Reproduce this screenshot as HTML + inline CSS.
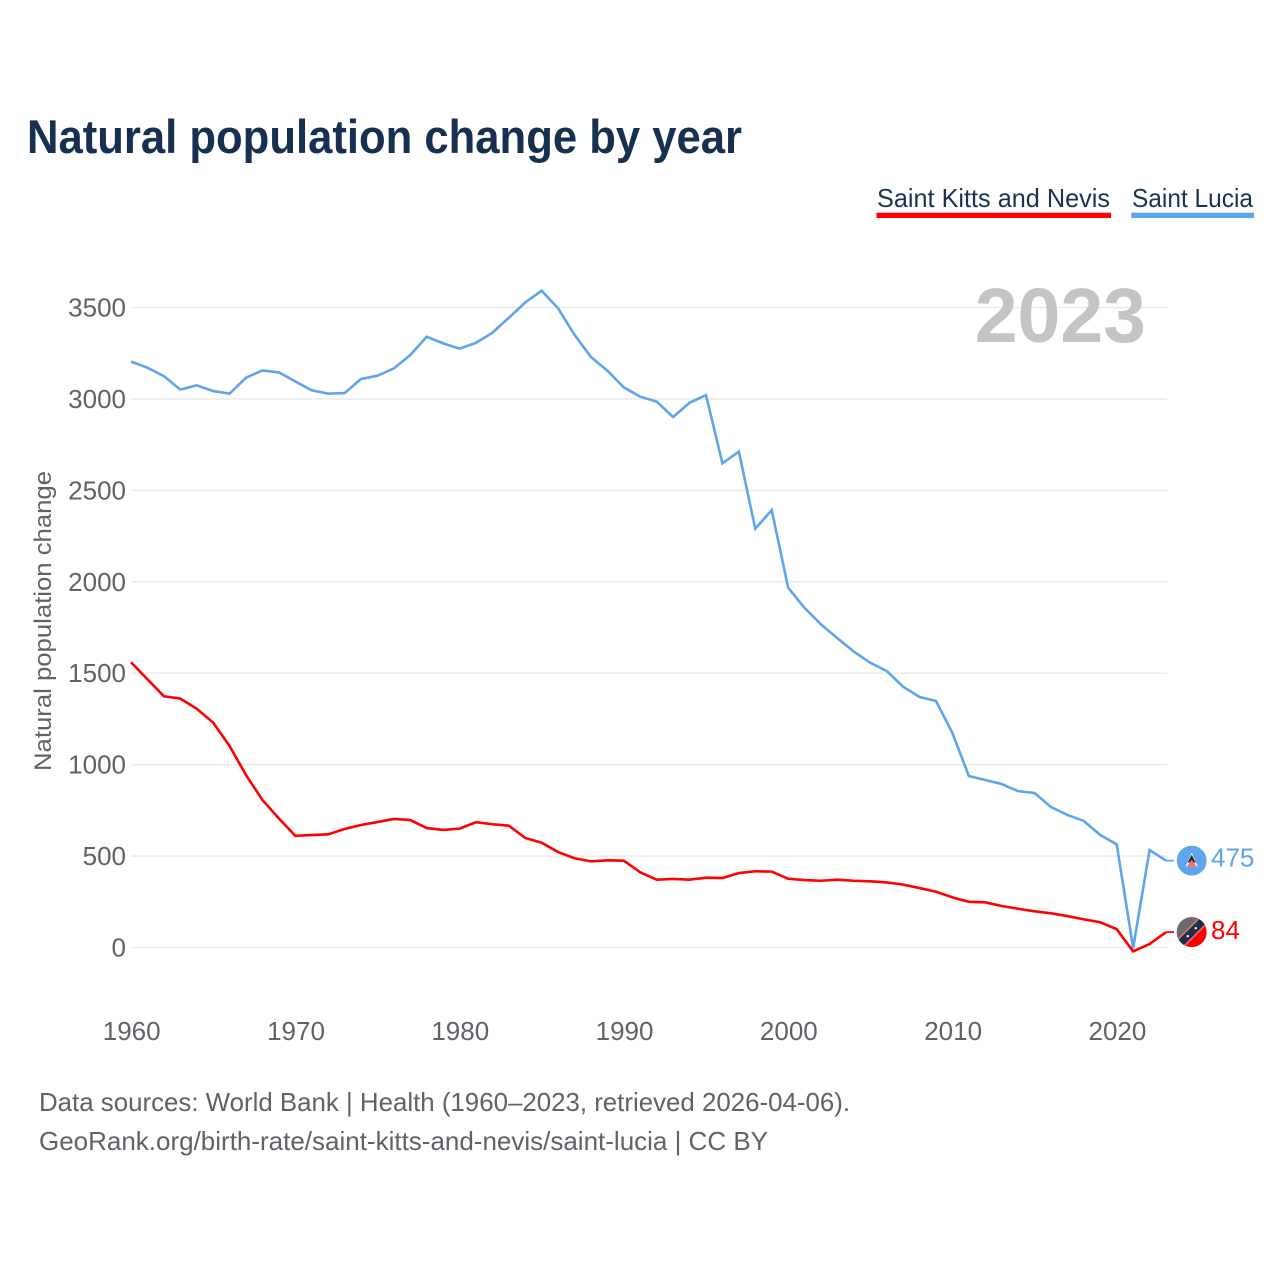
<!DOCTYPE html>
<html lang="en">
<head>
<meta charset="utf-8">
<title>Natural population change by year</title>
<style>
html,body{margin:0;padding:0;background:#fff;}
svg{display:block;font-family:"Liberation Sans",sans-serif;}
</style>
</head>
<body>
<svg id="chart" xmlns="http://www.w3.org/2000/svg" width="1280" height="1280" viewBox="0 0 1280 1280">
  <defs>
    <clipPath id="flag-clip"><circle cx="0" cy="0" r="15"></circle></clipPath>
  </defs>
  <rect x="0" y="0" width="1280" height="1280" fill="#ffffff"></rect>
  <text x="27" y="153" font-size="47" font-weight="700" fill="#17304f" textLength="715" lengthAdjust="spacingAndGlyphs">Natural population change by year</text>

  <g>
    <g>
      <text x="877" y="207" font-size="26" fill="#1a3353" textLength="233" lengthAdjust="spacingAndGlyphs">Saint Kitts and Nevis</text>
      <rect x="876.5" y="212.7" width="234.5" height="5.3" fill="#ff0000"></rect>
    </g>
    <g>
      <text x="1132" y="207" font-size="26" fill="#1a3353" textLength="121" lengthAdjust="spacingAndGlyphs">Saint Lucia</text>
      <rect x="1131.3" y="212.7" width="122.7" height="5.3" fill="#5ea5ec"></rect>
    </g>
  </g>

  <g id="grid"></g>
  <text x="1146" y="342" font-size="77" font-weight="700" fill="#c4c4c4" text-anchor="end">2023</text>
  <g id="yticks"></g>
  <g id="xticks"></g>
  <text transform="translate(51 771) rotate(-90)" x="0" y="0" font-size="24" fill="#5f6368" textLength="300" lengthAdjust="spacingAndGlyphs">Natural population change</text>
  <g id="series"></g>
  <g id="ends"></g>

  <text x="39" y="1111" font-size="26" fill="#5f6368" textLength="811" lengthAdjust="spacingAndGlyphs">Data sources: World Bank | Health (1960–2023, retrieved 2026-04-06).</text>
  <text x="39" y="1150" font-size="26" fill="#5f6368" textLength="729" lengthAdjust="spacingAndGlyphs">GeoRank.org/birth-rate/saint-kitts-and-nevis/saint-lucia | CC BY</text>
</svg>
<script>
const firstYear = 1960;
const yTicks = [0, 500, 1000, 1500, 2000, 2500, 3000, 3500];
const xTicks = [1960, 1970, 1980, 1990, 2000, 2010, 2020];
const saintKittsValues = [1560,1467,1374,1361,1306,1230,1102,943,807,706,611,615,619,648,670,686,703,697,653,643,650,685,674,666,599,573,522,488,471,477,475,411,371,375,371,382,380,407,417,415,376,369,365,371,365,362,356,344,325,305,274,250,247,227,212,198,187,172,154,138,100,-21,19,84];
const saintLuciaValues = [3204,3171,3125,3051,3074,3043,3029,3116,3156,3145,3096,3047,3029,3032,3109,3127,3167,3240,3340,3304,3275,3307,3362,3444,3528,3592,3495,3350,3229,3154,3063,3012,2985,2901,2979,3021,2648,2712,2290,2392,1968,1857,1767,1691,1618,1557,1512,1426,1370,1348,1173,938,916,894,855,845,768,725,692,615,564,-3,533,475];

const NS = 'http://www.w3.org/2000/svg';
const xScale = function (year) { return 131 + (year - 1960) * (1035 / 63); };
const yScale = function (value) { return 947.5 - value * (640 / 3500); };
const formatPoints = function (values) {
  return values.map(function (v, i) { return xScale(firstYear + i).toFixed(2) + ',' + yScale(v).toFixed(2); }).join(' ');
};
const make = function (tag, attrs, parent) {
  const el = document.createElementNS(NS, tag);
  Object.keys(attrs).forEach(function (k) { el.setAttribute(k, attrs[k]); });
  parent.appendChild(el);
  return el;
};

const gridGroup = document.getElementById('grid');
const yTickGroup = document.getElementById('yticks');
const xTickGroup = document.getElementById('xticks');
const seriesGroup = document.getElementById('series');
const endsGroup = document.getElementById('ends');
const lastYear = firstYear + saintLuciaValues.length - 1;

yTicks.forEach(function (t) {
  const line = make('line', { x1: 131, x2: xScale(2023) + 1, y1: yScale(t), y2: yScale(t), stroke: '#ececec', 'stroke-width': 1.6 }, gridGroup);
  
  
  const label = make('text', { x: 126, y: yScale(t) + 9, 'font-size': 26, fill: '#5f6368', 'text-anchor': 'end' }, yTickGroup);
  label.textContent = String(t);
  
  
});

xTicks.forEach(function (t) {
  const label = make('text', { x: xScale(t) + 0.7, y: 1040, 'font-size': 26, fill: '#5f6368', 'text-anchor': 'middle' }, xTickGroup);
  label.textContent = String(t);
  
  
});

const luciaLine = make('polyline', { points: formatPoints(saintLuciaValues), fill: 'none', stroke: '#5ea5ec', 'stroke-width': 2.6, 'stroke-linejoin': 'miter' }, seriesGroup);



const kittsLine = make('polyline', { points: formatPoints(saintKittsValues), fill: 'none', stroke: '#ff0000', 'stroke-width': 2.6, 'stroke-linejoin': 'miter' }, seriesGroup);



const lastLucia = saintLuciaValues[saintLuciaValues.length - 1];
const lastKitts = saintKittsValues[saintKittsValues.length - 1];

const luciaConnector = make('line', { x1: xScale(lastYear), x2: 1174, y1: yScale(lastLucia), y2: yScale(lastLucia), stroke: '#5ea5ec', 'stroke-width': 1.8 }, endsGroup);



const kittsConnector = make('line', { x1: xScale(lastYear), x2: 1174, y1: yScale(lastKitts), y2: yScale(lastKitts), stroke: '#ff0000', 'stroke-width': 1.8 }, endsGroup);



const luciaFlag = make('g', { transform: 'translate(1191.7 ' + yScale(lastLucia) + ')', 'clip-path': 'url(#flag-clip)' }, endsGroup);


make('circle', { cx: 0, cy: 0, r: 15, fill: '#5ea5ec' }, luciaFlag);
make('polygon', { points: '0,-8 6,6 -6,6', fill: '#ffffff' }, luciaFlag);
make('polygon', { points: '0,-6 4,2 -4,2', fill: '#1a2a3a' }, luciaFlag);
make('polygon', { points: '0,-1 5,6 -5,6', fill: '#f0706a' }, luciaFlag);

const kittsFlag = make('g', { transform: 'translate(1191.7 ' + yScale(lastKitts) + ')', 'clip-path': 'url(#flag-clip)' }, endsGroup);


make('rect', { x: -15, y: -15, width: 30, height: 30, fill: '#ff0000' }, kittsFlag);
make('polygon', { points: '-15,-15 15,-15 -15,15', fill: '#6b6b6b' }, kittsFlag);
make('line', { x1: -15, y1: 15, x2: 15, y2: -15, stroke: '#f0706a', 'stroke-width': 10.5 }, kittsFlag);
make('line', { x1: -15, y1: 15, x2: 15, y2: -15, stroke: '#1a2f4f', 'stroke-width': 7.5 }, kittsFlag);
make('circle', { cx: -4, cy: 4, r: 1.2, fill: '#ffffff' }, kittsFlag);
make('circle', { cx: 4, cy: -4, r: 1.2, fill: '#ffffff' }, kittsFlag);

const luciaValueLabel = make('text', { x: 1211, y: yScale(lastLucia) + 6, 'font-size': 26, fill: '#5ea5ec' }, endsGroup);
luciaValueLabel.textContent = String(lastLucia);



const kittsValueLabel = make('text', { x: 1211, y: yScale(lastKitts) + 7, 'font-size': 26, fill: '#ff0000' }, endsGroup);
kittsValueLabel.textContent = String(lastKitts);


</script>
</body>
</html>
